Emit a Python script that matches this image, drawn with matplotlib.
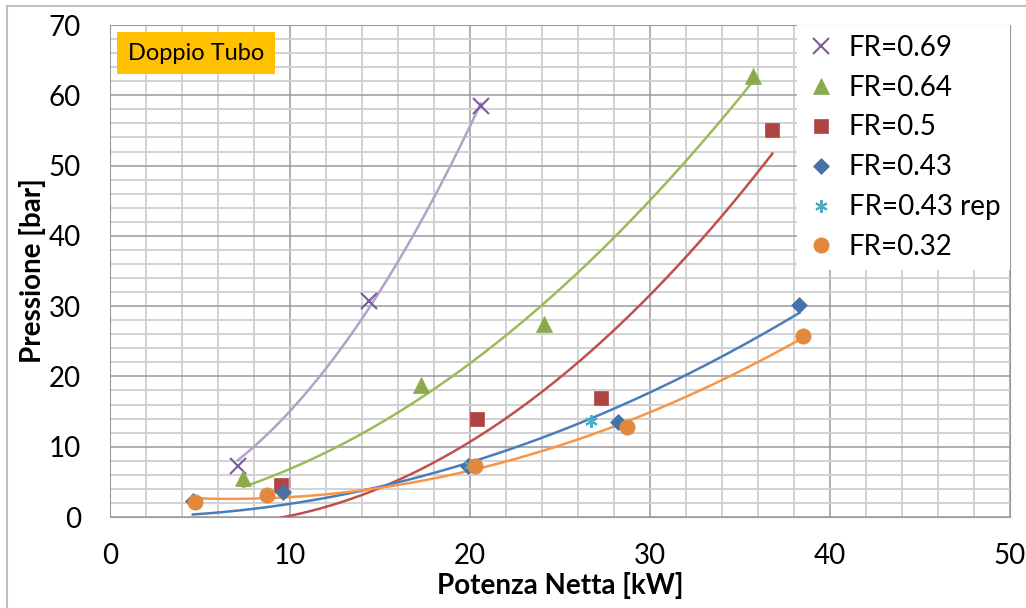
import numpy as np
import matplotlib.pyplot as plt
from matplotlib.ticker import MultipleLocator
from matplotlib.lines import Line2D

plt.rcParams['font.family'] = ['Lato', 'DejaVu Sans']

# data
x_069 = [7.1, 14.4, 20.6]
y_069 = [7.2, 30.7, 58.5]
x_064 = [7.4, 17.3, 24.1, 35.7]
y_064 = [5.5, 18.8, 27.4, 62.8]
x_050 = [9.5, 20.4, 27.3, 36.8]
y_050 = [4.5, 14.0, 16.9, 55.0]
x_043 = [4.6, 9.6, 19.9, 28.2, 38.3]
y_043 = [2.3, 3.5, 7.2, 13.5, 30.2]
x_043r = [20.0, 26.7]
y_043r = [7.4, 13.7]
x_032 = [4.7, 8.7, 20.3, 28.7, 38.5]
y_032 = [2.2, 3.2, 7.2, 12.8, 25.8]

# label, x, y, marker, marker colour, trend colour, marker size, trendline type
series = [
    ('FR=0.69', x_069, y_069, 'x', '#7a5c9e', '#b3a2c7', 12, 'zero'),
    ('FR=0.64', x_064, y_064, '^', '#8aaa4c', '#9bbb59', 11, 'zero'),
    ('FR=0.5', x_050, y_050, 's', '#b04442', '#c0504d', 10, 'zero'),
    ('FR=0.43', x_043, y_043, 'D', '#4572a7', '#4a7ebb', 8, 'zero'),
    ('FR=0.43 rep', x_043r, y_043r, (6, 2, 0), '#4bacc6', '#4bacc6', 9, None),
    ('FR=0.32', x_032, y_032, 'o', '#e2883f', '#f79646', 11, 'free'),
]


def quad_trend(xs, ys, kind):
    # 2nd order polynomial trendline, optionally with intercept fixed at 0
    if kind == 'zero':
        A = np.column_stack([xs ** 2, xs])
        a, b = np.linalg.lstsq(A, ys, rcond=None)[0]
        coef = [a, b, 0.0]
    else:
        coef = np.polyfit(xs, ys, 2)
    xx = np.linspace(xs.min(), xs.max(), 200)
    return xx, np.polyval(coef, xx)


def main():
    fig = plt.figure(figsize=(10.26, 6.08), dpi=100)
    ax = fig.add_axes([110 / 1026, 1 - 517 / 608, 900 / 1026, 492 / 608])

    # outer chart border (left and top visible)
    fig.add_artist(Line2D([7 / 1026, 7 / 1026], [0, 1 - 6 / 608], transform=fig.transFigure,
                          color='#c0c0c0', lw=1.5))
    fig.add_artist(Line2D([7 / 1026, 1], [1 - 6 / 608, 1 - 6 / 608], transform=fig.transFigure,
                          color='#c0c0c0', lw=1.5))

    handles = []
    for label, xs, ys, marker, mcol, lcol, ms, trend in series:
        xs = np.array(xs)
        ys = np.array(ys)
        if trend:
            xx, yy = quad_trend(xs, ys, trend)
            ax.plot(xx, yy, color=lcol, lw=1.8, zorder=3)
        thin = marker == 'x' or isinstance(marker, tuple)
        h, = ax.plot(xs, ys, linestyle='none', marker=marker, color=mcol, markersize=ms,
                     markeredgewidth=1.5 if thin else 0.5, markeredgecolor=mcol, zorder=4,
                     label=label)
        handles.append(h)

    ax.set_xlim(0, 50)
    ax.set_ylim(0, 70)
    ax.xaxis.set_major_locator(MultipleLocator(10))
    ax.yaxis.set_major_locator(MultipleLocator(10))
    ax.xaxis.set_minor_locator(MultipleLocator(2))
    ax.yaxis.set_minor_locator(MultipleLocator(2))
    ax.grid(which='major', color='#9a9a9a', lw=1.1, zorder=0)
    ax.grid(which='minor', color='#cfcfcf', lw=1.3, zorder=0)
    ax.set_axisbelow(True)
    for s in ax.spines.values():
        s.set_color('#9a9a9a')
    ax.tick_params(which='both', length=0, labelsize=20)
    ax.tick_params(axis='x', pad=19)
    ax.tick_params(axis='y', pad=21)

    ax.set_xlabel('Potenza Netta [kW]', fontsize=20, fontweight='bold', labelpad=2)
    ax.set_ylabel('Pressione [bar]', fontsize=20, fontweight='bold', labelpad=2)

    ax.text(1.0, 66.0, 'Doppio Tubo', fontsize=17, color='black', va='center', ha='left',
            bbox=dict(boxstyle='square,pad=0.45', facecolor='#ffc000', edgecolor='none'),
            zorder=5)

    leg = ax.legend(handles=handles, loc='upper right', fontsize=20, frameon=True,
                    fancybox=False, framealpha=1, edgecolor='white', borderaxespad=0,
                    handlelength=1.0, handletextpad=0.5, labelspacing=0.5,
                    borderpad=0.35)
    leg.get_frame().set_linewidth(0)
    leg.set_zorder(6)

    fig.savefig('out.png', dpi=100)


main()
